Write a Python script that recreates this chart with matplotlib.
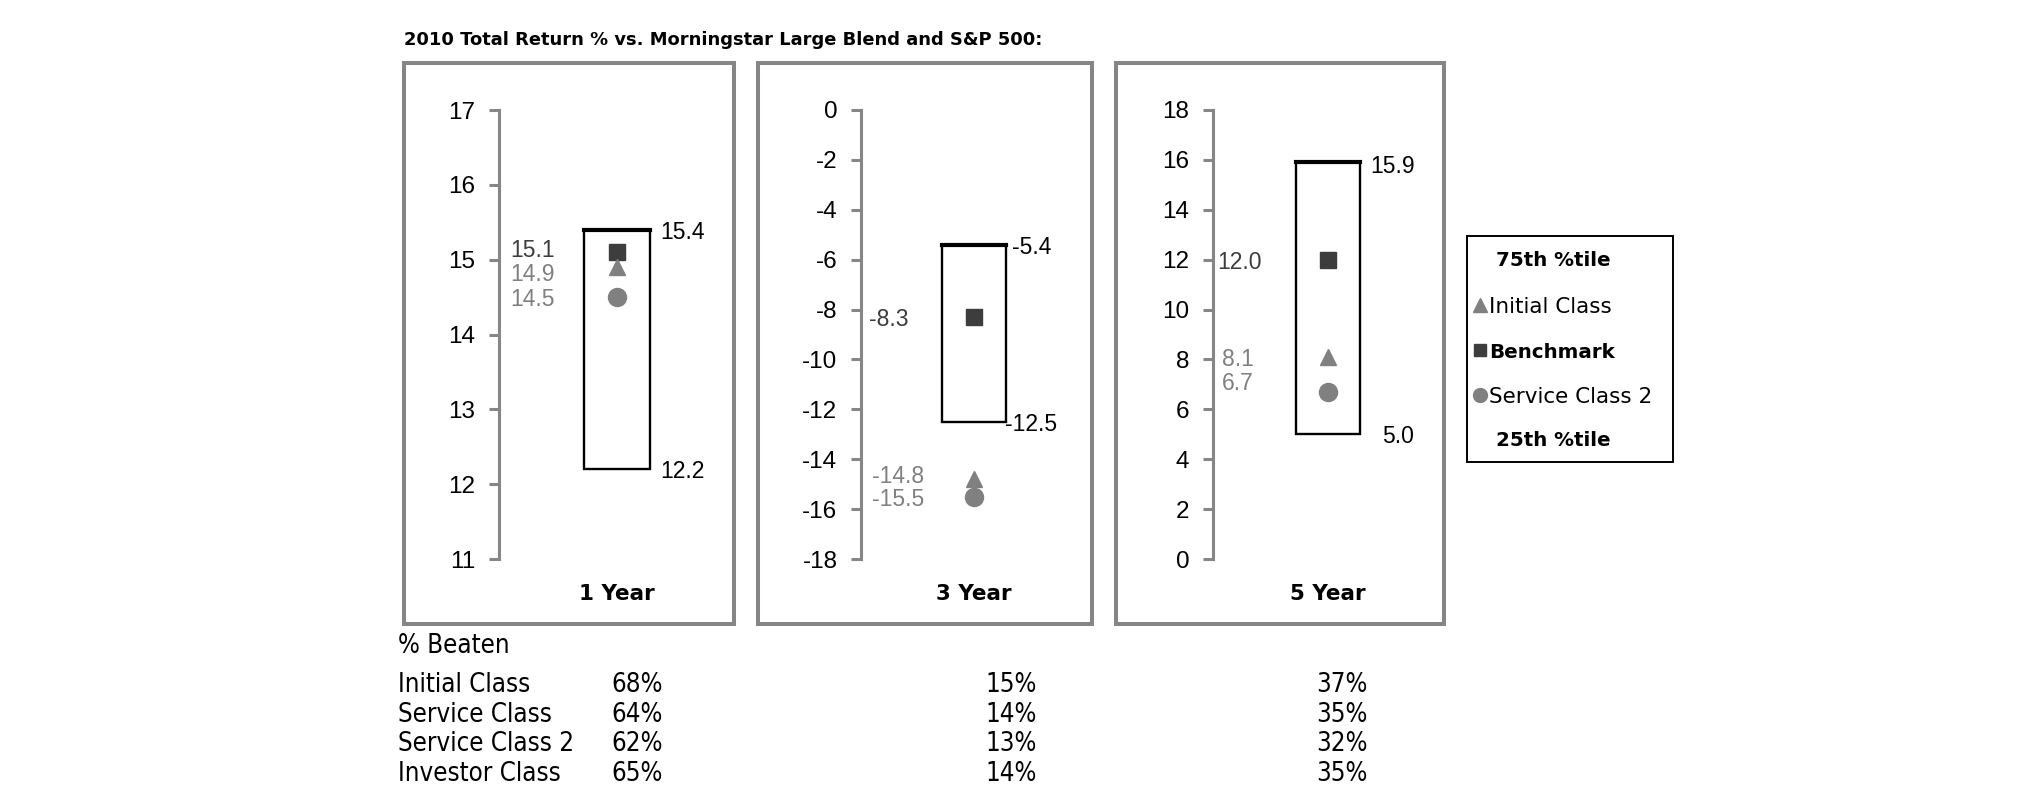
import os
import numpy as np
import matplotlib
matplotlib.use('Agg')
import matplotlib.pyplot as plt
import matplotlib.transforms as mtrans
import matplotlib.font_manager as fm
from matplotlib.patches import Rectangle
from matplotlib.font_manager import FontProperties

# ---------------- data ----------------
periods = ['1 Year', '3 Year', '5 Year']
pct75 = [15.4, -5.4, 15.9]
pct25 = [12.2, -12.5, 5.0]
benchmark = [15.1, -8.3, 12.0]
initial_class = [14.9, -14.8, 8.1]
service_class2 = [14.5, -15.5, 6.7]
y_min = [11, -18, 0]
y_max = [17, 0, 18]
y_step = [1, 2, 2]

beaten_classes = ['Initial Class', 'Service Class', 'Service Class 2', 'Investor Class']
beaten_1y = [68, 64, 62, 65]
beaten_3y = [15, 14, 13, 14]
beaten_5y = [37, 35, 32, 35]

legend_labels = ['75th %tile', 'Initial Class', 'Benchmark', 'Service Class 2', '25th %tile']
title = '2010 Total Return % vs. Morningstar Large Blend and S&P 500:'

# ---------------- style / layout ----------------
W, H = 2025, 806
plt.rcParams['font.family'] = ['Liberation Sans', 'DejaVu Sans']
plt.rcParams['axes.unicode_minus'] = False

GRAY_FRAME = '#858585'
AXIS_GRAY = '#868686'
BENCH_C = '#3d3d3d'
FUND_C = '#808080'

panel_frames = [(404, 63, 734, 624), (758, 63, 1092, 624), (1116, 63, 1444, 624)]
axes_px = [(499, 735), (861, 1087), (1213, 1443)]
ax_top, ax_bot = 110, 559
box_w = 0.56

bench_dx = [11, 8, 4]
fund_dx = [11, 11, 9]
bench_dy = [4, 0, 0]
init_dy = [-5, 5, 0]
svc_dy = [0, 0, 11]
top_dx = [10, 6, 10]
top_dy = [0, 0, -2]
bot_dx = [10, -1, 22]

LABEL_FS = 16.5
TICK_FS = 17.5

# table font (condensed if available)
tt_font = None
for f in fm.fontManager.ttflist:
    if os.path.basename(f.fname) == 'DejaVuSansCondensed.ttf':
        tt_font = FontProperties(fname=f.fname, size=18.5)
        break
if tt_font is None:
    for f in fm.fontManager.ttflist:
        if os.path.basename(f.fname) == 'LiberationSansNarrow-Regular.ttf':
            tt_font = FontProperties(fname=f.fname, size=19.5)
            break
if tt_font is None:
    tt_font = FontProperties(family='DejaVu Sans', size=15.5)

fig = plt.figure(figsize=(W / 100, H / 100), dpi=100)
fig.patch.set_facecolor('white')

# overlay in pixel coordinates for frames, legend, table
ov = fig.add_axes([0, 0, 1, 1])
ov.set_xlim(0, W)
ov.set_ylim(H, 0)
ov.axis('off')

ov.text(404, 45, title, fontfamily='DejaVu Sans', fontweight='bold', fontsize=12.9,
        ha='left', va='baseline', color='black')

for (x0, y0, x1, y1) in panel_frames:
    ov.add_patch(Rectangle((x0, y0), x1 - x0, y1 - y0, fill=False,
                           ec=GRAY_FRAME, lw=2.9))

for i in range(3):
    xl, xr = axes_px[i]
    ax = fig.add_axes([xl / W, 1 - ax_bot / H, (xr - xl) / W, (ax_bot - ax_top) / H])
    ax.set_facecolor('none')
    ax.set_xlim(-1, 1)
    ax.set_ylim(y_min[i], y_max[i])
    ax.set_yticks(np.arange(y_min[i], y_max[i] + y_step[i] / 2, y_step[i]))
    ax.set_xticks([])
    for s in ['top', 'right', 'bottom']:
        ax.spines[s].set_visible(False)
    ax.spines['left'].set_color(AXIS_GRAY)
    ax.spines['left'].set_linewidth(2.2)
    ax.tick_params(axis='y', direction='out', length=7, width=2.2, color=AXIS_GRAY,
                   pad=10, labelsize=TICK_FS, labelcolor='black')

    # percentile box
    ax.add_patch(Rectangle((-box_w / 2, pct25[i]), box_w, pct75[i] - pct25[i],
                           fill=False, ec='black', lw=1.7, zorder=2))
    ax.plot([-box_w / 2, box_w / 2], [pct75[i], pct75[i]], color='black', lw=3.0,
            solid_capstyle='projecting', zorder=3)

    # markers
    ax.plot([0], [benchmark[i]], marker='s', ms=11, color=BENCH_C, ls='none', zorder=4)
    ax.plot([0], [initial_class[i]], marker='^', ms=12, color=FUND_C, ls='none', zorder=4)
    ax.plot([0], [service_class2[i]], marker='o', ms=13, color=FUND_C, ls='none', zorder=4)

    trans_left = mtrans.blended_transform_factory(ax.transAxes, ax.transData)
    ax.annotate(f'{benchmark[i]:.1f}', xy=(0, benchmark[i]), xycoords=trans_left,
                xytext=(bench_dx[i], bench_dy[i]), textcoords='offset pixels',
                ha='left', va='center_baseline', fontsize=LABEL_FS, color=BENCH_C)
    ax.annotate(f'{initial_class[i]:.1f}', xy=(0, initial_class[i]), xycoords=trans_left,
                xytext=(fund_dx[i], init_dy[i]), textcoords='offset pixels',
                ha='left', va='center_baseline', fontsize=LABEL_FS, color=FUND_C)
    ax.annotate(f'{service_class2[i]:.1f}', xy=(0, service_class2[i]), xycoords=trans_left,
                xytext=(fund_dx[i], svc_dy[i]), textcoords='offset pixels',
                ha='left', va='center_baseline', fontsize=LABEL_FS, color=FUND_C)
    ax.annotate(f'{pct75[i]:.1f}', xy=(box_w / 2, pct75[i]), xycoords='data',
                xytext=(top_dx[i], top_dy[i]), textcoords='offset pixels',
                ha='left', va='center_baseline', fontsize=LABEL_FS, color='black')
    ax.annotate(f'{pct25[i]:.1f}', xy=(box_w / 2, pct25[i]), xycoords='data',
                xytext=(bot_dx[i], 0), textcoords='offset pixels',
                ha='left', va='center_baseline', fontsize=LABEL_FS, color='black')

    trans_bot = mtrans.blended_transform_factory(ax.transData, ax.transAxes)
    ax.annotate(periods[i], xy=(0, 0), xycoords=trans_bot, xytext=(0, -35),
                textcoords='offset pixels', ha='center', va='center',
                fontfamily='DejaVu Sans', fontweight='bold', fontsize=15.5, color='black')

# legend
ov.add_patch(Rectangle((1467, 236), 1673 - 1467, 462 - 236, fill=False, ec='black', lw=1.4))
leg_y = [258, 305, 350, 395, 439]
ov.text(1496, leg_y[0], legend_labels[0], fontfamily='DejaVu Sans', fontweight='bold',
        fontsize=14.3, va='center_baseline', ha='left')
ov.plot([1480], [leg_y[1]], marker='^', ms=10, color=FUND_C, ls='none')
ov.text(1489, leg_y[1], legend_labels[1], fontfamily='DejaVu Sans', fontsize=15.5,
        va='center_baseline', ha='left')
ov.plot([1480], [leg_y[2]], marker='s', ms=8, color=BENCH_C, ls='none')
ov.text(1489, leg_y[2], legend_labels[2], fontfamily='DejaVu Sans', fontweight='bold',
        fontsize=14.3, va='center_baseline', ha='left')
ov.plot([1480], [leg_y[3]], marker='o', ms=10, color=FUND_C, ls='none')
ov.text(1489, leg_y[3], legend_labels[3], fontfamily='DejaVu Sans', fontsize=15.5,
        va='center_baseline', ha='left')
ov.text(1496, leg_y[4], legend_labels[4], fontfamily='DejaVu Sans', fontweight='bold',
        fontsize=14.3, va='center_baseline', ha='left')

# % beaten table
ov.text(398, 643, '% Beaten', fontproperties=tt_font, ha='left', va='center_baseline')
row_y = [682, 712, 741, 771]
col_x = [611, 985, 1316]
for r, name in enumerate(beaten_classes):
    ov.text(398, row_y[r], name, fontproperties=tt_font, ha='left', va='center_baseline')
    for c, vals in enumerate([beaten_1y, beaten_3y, beaten_5y]):
        ov.text(col_x[c], row_y[r], f'{vals[r]}%', fontproperties=tt_font,
                ha='left', va='center_baseline')

fig.savefig('out.png', dpi=100, facecolor='white')
